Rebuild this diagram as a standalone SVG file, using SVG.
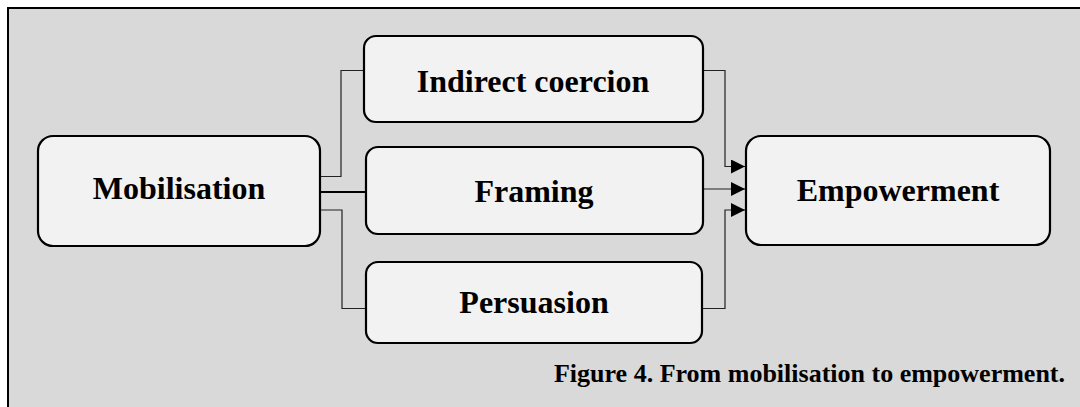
<svg xmlns="http://www.w3.org/2000/svg" width="1080" height="407" viewBox="0 0 1080 407">
  <defs>
    <style>
      .box { fill: #f2f2f2; stroke: #000; stroke-width: 2.2; }
      .lbl { font-family: "Liberation Serif", "Times New Roman", serif; font-weight: bold; font-size: 32px; fill: #000; text-anchor: middle; }
      .cap { font-family: "Liberation Serif", "Times New Roman", serif; font-weight: bold; font-size: 26px; fill: #000; text-anchor: end; }
      .wire { fill: none; stroke: #222; stroke-width: 1.2; }
      .wire-main { fill: none; stroke: #000; stroke-width: 2; }
    </style>
    <marker id="arrow" viewBox="0 0 14 14" refX="14" refY="7" markerWidth="14" markerHeight="14" markerUnits="userSpaceOnUse" orient="auto">
      <path d="M0,0 L14,7 L0,14 Z" fill="#000"/>
    </marker>
  </defs>

  <!-- panel background with top and left rule -->
  <rect x="8" y="8" width="1080" height="410" fill="#d9d9d9"/>
  <path d="M8,407 L8,8 L1080,8" fill="none" stroke="#000" stroke-width="2"/>

  <!-- connectors -->
  <g id="connectors">
    <path class="wire" d="M320,176.5 H341 V70.5 H364"/>
    <path class="wire-main" d="M320,192 H366"/>
    <path class="wire" d="M320,210 H342 V308.5 H366"/>
    <path class="wire" d="M703,70.5 H725 V166.5 H745" marker-end="url(#arrow)"/>
    <path class="wire" d="M703,189 H745" marker-end="url(#arrow)"/>
    <path class="wire" d="M703,308.5 H725 V210 H745" marker-end="url(#arrow)"/>
  </g>

  <g id="mobilisation">
    <rect class="box" x="38" y="136" width="282" height="110" rx="15"/>
    <text class="lbl" x="179" y="199">Mobilisation</text>
  </g>

  <g id="indirect-coercion">
    <rect class="box" x="364" y="36" width="339" height="86" rx="12"/>
    <text class="lbl" x="533" y="92">Indirect coercion</text>
  </g>

  <g id="framing">
    <rect class="box" x="366" y="147" width="337" height="87" rx="12"/>
    <text class="lbl" x="534" y="202">Framing</text>
  </g>

  <g id="persuasion">
    <rect class="box" x="366" y="262" width="336" height="81" rx="12"/>
    <text class="lbl" x="534" y="313">Persuasion</text>
  </g>

  <g id="empowerment">
    <rect class="box" x="746" y="136" width="304" height="109" rx="15"/>
    <text class="lbl" x="898" y="201">Empowerment</text>
  </g>

  <text class="cap" x="1065" y="382">Figure 4. From mobilisation to empowerment.</text>
</svg>
